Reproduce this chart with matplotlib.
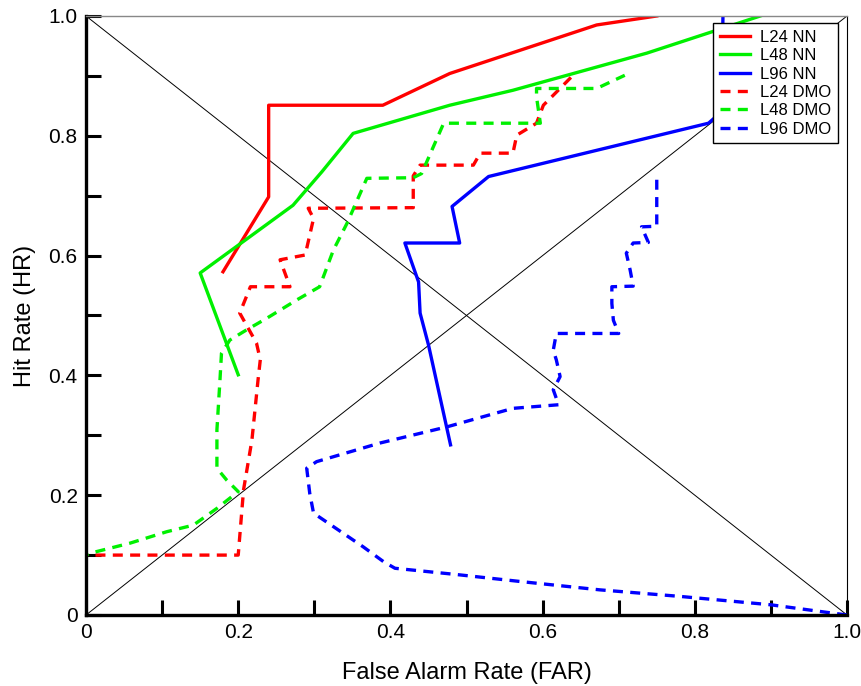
import matplotlib
matplotlib.use("Agg")
import matplotlib.pyplot as plt

plt.rcParams['font.family'] = ['Liberation Sans', 'DejaVu Sans']

# ---- data ----
L24_NN_far = [0.18, 0.24, 0.24, 0.39, 0.478, 0.671, 0.75]
L24_NN_hr = [0.573, 0.698, 0.851, 0.851, 0.904, 0.985, 1.0]

L48_NN_far = [0.20, 0.15, 0.272, 0.31, 0.351, 0.478, 0.561, 0.737, 0.886]
L48_NN_hr = [0.401, 0.571, 0.684, 0.74, 0.804, 0.851, 0.876, 0.938, 1.0]

L96_NN_far = [0.479, 0.450, 0.439, 0.437, 0.419, 0.491, 0.481, 0.529, 0.818, 0.835, 0.837]
L96_NN_hr = [0.284, 0.451, 0.504, 0.556, 0.621, 0.621, 0.682, 0.732, 0.821, 0.84, 1.0]

L24_DMO_far = [0.0, 0.0, 0.2, 0.207, 0.218, 0.226, 0.229, 0.224, 0.202, 0.216, 0.268,
               0.255, 0.288, 0.299, 0.292, 0.43, 0.43, 0.439, 0.509, 0.518, 0.561,
               0.566, 0.592, 0.601, 0.64]
L24_DMO_hr = [0.0, 0.1, 0.1, 0.209, 0.292, 0.392, 0.426, 0.454, 0.504, 0.548, 0.548,
              0.593, 0.601, 0.662, 0.679, 0.68, 0.733, 0.751, 0.751, 0.771, 0.771,
              0.801, 0.821, 0.851, 0.901]

L48_DMO_far = [0.0, 0.0, 0.005, 0.058, 0.106, 0.141, 0.172, 0.2, 0.185, 0.172, 0.172,
               0.176, 0.178, 0.189, 0.211, 0.237, 0.277, 0.307, 0.325, 0.343, 0.369,
               0.43, 0.441, 0.47, 0.597, 0.592, 0.592, 0.671, 0.708]
L48_DMO_hr = [0.03, 0.1, 0.103, 0.12, 0.139, 0.150, 0.178, 0.206, 0.225, 0.245, 0.309,
              0.392, 0.437, 0.459, 0.476, 0.495, 0.526, 0.548, 0.609, 0.654, 0.729,
              0.730, 0.737, 0.821, 0.821, 0.865, 0.879, 0.879, 0.901]

L96_DMO_far = [1.0, 0.97, 0.9, 0.781, 0.675, 0.570, 0.491, 0.406, 0.391, 0.364, 0.299,
               0.294, 0.290, 0.303, 0.386, 0.474, 0.561, 0.621, 0.614, 0.623, 0.618,
               0.614, 0.618, 0.700, 0.693, 0.691, 0.691, 0.719, 0.715, 0.710, 0.719,
               0.739, 0.730, 0.750, 0.750]
L96_DMO_hr = [0.0, 0.005, 0.017, 0.031, 0.042, 0.056, 0.067, 0.078, 0.089, 0.114, 0.170,
              0.203, 0.245, 0.256, 0.287, 0.314, 0.345, 0.351, 0.376, 0.398, 0.426,
              0.442, 0.470, 0.470, 0.492, 0.520, 0.548, 0.549, 0.576, 0.604, 0.621,
              0.622, 0.648, 0.649, 0.737]

tick_vals = [0, 0.2, 0.4, 0.6, 0.8, 1.0]
tick_labels = ['0', '0.2', '0.4', '0.6', '0.8', '1.0']
minor_vals = [0.1, 0.3, 0.5, 0.7, 0.9]

series = [
    ("L24 NN", L24_NN_far, L24_NN_hr, '#ff0000', '-'),
    ("L48 NN", L48_NN_far, L48_NN_hr, '#00f000', '-'),
    ("L96 NN", L96_NN_far, L96_NN_hr, '#0000ff', '-'),
    ("L24 DMO", L24_DMO_far, L24_DMO_hr, '#ff0000', '--'),
    ("L48 DMO", L48_DMO_far, L48_DMO_hr, '#00f000', '--'),
    ("L96 DMO", L96_DMO_far, L96_DMO_hr, '#0000ff', '--'),
]

fig = plt.figure(figsize=(8.62, 6.86), dpi=100)
ax = fig.add_axes([0.0998, 0.1035, 0.8828, 0.8732])

# diagonals
ax.plot([0, 1], [0, 1], color='black', lw=0.7, zorder=1)
ax.plot([0, 1], [1, 0], color='black', lw=0.7, zorder=1)

for name, xs, ys, c, ls in series:
    if ls == '--':
        ax.plot(xs, ys, color=c, lw=2.4, linestyle=(0, (3.0, 2.2)), label=name, zorder=2)
    else:
        ax.plot(xs, ys, color=c, lw=2.4, linestyle='-', label=name, zorder=2)

ax.set_xlim(0, 1)
ax.set_ylim(0, 1)
ax.set_xticks(tick_vals)
ax.set_xticklabels(tick_labels)
ax.set_yticks(tick_vals)
ax.set_yticklabels(tick_labels)
ax.set_xticks(minor_vals, minor=True)
ax.set_yticks(minor_vals, minor=True)
ax.tick_params(which='both', direction='in', length=11, width=2.2, color='black',
               top=False, right=False)
ax.tick_params(which='major', labelsize=15, pad=6)

for s in ['left', 'bottom']:
    ax.spines[s].set_linewidth(2.4)
    ax.spines[s].set_color('black')
ax.spines['top'].set_linewidth(1.0)
ax.spines['top'].set_color('#888888')
ax.spines['right'].set_linewidth(0.8)
ax.spines['right'].set_color('black')

ax.set_xlabel('False Alarm Rate (FAR)', fontsize=17, labelpad=14)
ax.set_ylabel('Hit Rate (HR)', fontsize=17, labelpad=9)

leg = ax.legend(loc='upper right', bbox_to_anchor=(0.988, 0.988), borderaxespad=0,
                fontsize=12, frameon=True, fancybox=False, edgecolor='black',
                handlelength=1.8, handletextpad=0.6, labelspacing=0.2,
                borderpad=0.4)
leg.get_frame().set_linewidth(1.0)
leg.get_frame().set_alpha(1.0)

fig.savefig('out.png', dpi=100)
